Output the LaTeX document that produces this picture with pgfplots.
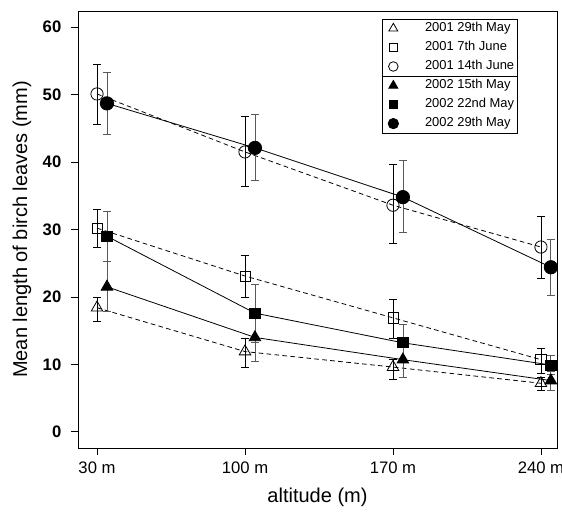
\documentclass[border=0pt]{standalone}
\usepackage{fontspec}
\setmainfont{Liberation Sans}
\usepackage{pgfplots}
\pgfplotsset{compat=1.18}
\usetikzlibrary{calc}

\pgfplotsset{
  common/.style={
    scale only axis, width=359.25pt, height=327.75pt,
    xmin=21, xmax=247.6, ymin=-2.4, ymax=62.4,
    legend style={draw=black, line width=0.6pt, inner sep=0pt, outer sep=0pt,
      column sep=6pt, row sep=0pt, fill=white,
      font=\fontsize{9.7}{11.5}\selectfont,
      cells={anchor=west},
      nodes={inner xsep=0pt, inner ysep=2pt, text height=7.6pt, text depth=2.65pt}},
    legend image code/.code={
      \path[draw=none, fill=none] (0pt,-4pt) rectangle (26pt,4pt);
      \draw[#1, only marks, every mark/.append style={scale=0.78}] plot coordinates {(8.25pt,0pt)};},
  },
  ser/.style 2 args={black, line width=0.6pt, #1,
    error bars/y dir=both, error bars/y explicit,
    error bars/error bar style={solid, line width=0.6pt, #2},
    error bars/error mark options={solid, rotate=90, mark size=3pt, line width=0.6pt, #2}},
  y01/.style={ser={dash pattern=on 3.5pt off 2.5pt, mark options={solid, line width=0.6pt}}{black}},
  y02/.style={ser={solid, mark options={solid, fill=black}}{black!65}},
}

\begin{document}
\begin{tikzpicture}
\begin{axis}[common,
  axis line style={line width=0.6pt},
  tick pos=left, tick align=outside,
  major tick length=5pt, tick style={line width=0.6pt, black},
  xtick={30,100,170,240}, xticklabels={30 m,100 m,170 m,240 m},
  ytick={0,10,...,60},
  /pgf/number format/assume math mode=true,
  xticklabel style={font=\fontsize{12.5}{14}\selectfont, yshift=-1.5pt},
  yticklabel style={font=\fontsize{12.5}{14}\selectfont\bfseries, xshift=-4pt},
  xlabel={altitude (m)}, ylabel={Mean length of birch leaves (mm)},
  label style={font=\fontsize{15}{17}\selectfont},
  xlabel style={at={(axis description cs:0.5,-0.112)}, anchor=center},
  ylabel style={at={(axis description cs:-0.117,0.5)}, anchor=center},
  legend style={at={(axis description cs:0.9165,0.9817)}, anchor=north east},
]
% 2001, open symbols, dashed
\addplot[y01, mark=triangle, mark size=5pt] coordinates {
  (30,18.4) += (0,1.5) -= (0,2.0)
  (100,11.9) += (0,1.9) -= (0,2.3)
  (170,9.6) += (0,1.2) -= (0,1.9)
  (240,7.2) += (0,0.8) -= (0,1.0)};
\addlegendentry{\makebox[69pt][l]{2001 29th May}}
\addplot[y01, mark=square, mark size=3.8pt] coordinates {
  (30,30.2) += (0,2.8) -= (0,2.8)
  (100,23.1) += (0,3.1) -= (0,3.1)
  (170,16.9) += (0,2.8) -= (0,3.0)
  (240,10.7) += (0,1.7) -= (0,2.0)};
\addlegendentry{\makebox[69pt][l]{2001 7th June}}
\addplot[y01, mark=o, mark size=4.6pt] coordinates {
  (30,50.1) += (0,4.4) -= (0,4.5)
  (100,41.5) += (0,5.2) -= (0,5.1)
  (170,33.6) += (0,6.0) -= (0,5.7)
  (240,27.4) += (0,4.6) -= (0,4.6)};
\addlegendentry{\makebox[69pt][l]{2001 14th June}}
\end{axis}
\begin{axis}[common, hide axis,
  legend style={at={(axis description cs:0.9165,0.851)}, anchor=north east},
]
% 2002, filled symbols, solid
\addplot[y02, mark=triangle*, mark size=5pt] coordinates {
  (34.7,21.5) +- (0,3.7)
  (104.7,14.0) +- (0,3.6)
  (174.7,10.7) +- (0,2.7)
  (244.7,7.6) +- (0,1.4)};
\addlegendentry{\makebox[69pt][l]{2002 15th May}}
\addplot[y02, mark=square*, mark size=3.8pt] coordinates {
  (34.7,29.0) +- (0,3.7)
  (104.7,17.6) +- (0,4.3)
  (174.7,13.2) +- (0,2.7)
  (244.7,9.9) +- (0,1.4)};
\addlegendentry{\makebox[69pt][l]{2002 22nd May}}
\addplot[y02, mark=*, mark size=5pt] coordinates {
  (34.7,48.7) += (0,4.6) -= (0,4.6)
  (104.7,42.1) += (0,5.0) -= (0,4.8)
  (174.7,34.8) += (0,5.4) -= (0,5.3)
  (244.7,24.4) += (0,4.2) -= (0,4.1)};
\addlegendentry{\makebox[69pt][l]{2002 29th May}}
\end{axis}
\pgfresetboundingbox
\path ($(current axis.south west)+(-58.5pt,-48.75pt)$) rectangle ($(current axis.north east)+(3.75pt,8.25pt)$);
\end{tikzpicture}
\end{document}
